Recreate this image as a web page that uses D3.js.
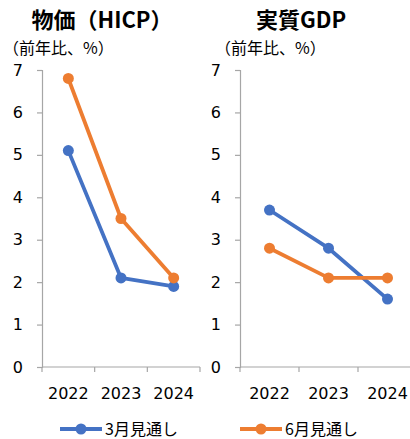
<!DOCTYPE html>
<html>
<head>
<meta charset="utf-8">
<script src="https://cdn.jsdelivr.net/npm/d3@7"></script>
<style>
  body { margin: 0; background: #fff; }
  svg { font-family: "Noto Sans CJK JP", "DejaVu Sans", sans-serif; }
</style>
</head>
<body>
<svg id="chart" width="410" height="439"></svg>
<script>
var years = ["2022", "2023", "2024"];
var seriesNames = ["3月見通し", "6月見通し"];
var seriesColors = ["#4472C4", "#ED7D31"];
var hicpMarch = [5.1, 2.1, 1.9];
var hicpJune = [6.8, 3.5, 2.1];
var gdpMarch = [3.7, 2.8, 1.6];
var gdpJune = [2.8, 2.1, 2.1];
var yTicks = [0, 1, 2, 3, 4, 5, 6, 7];

var svg = d3.select("#chart");

// one panel per chart
function drawPanel(opt) {
    var g = svg.append("g");

    var x = d3.scaleBand().domain(years).range([opt.x0, opt.x1]);
    var y = d3.scaleLinear().domain([0, 7]).range([367, 70]);

    g.append("text")
        .attr("x", opt.titleX).attr("y", 28)
        .attr("text-anchor", "middle")
        .attr("font-size", 22).attr("font-weight", "bold")
        .attr("fill", "#000")
        .text(opt.title);

    g.append("text")
        .attr("x", opt.subX).attr("y", 54)
        .attr("font-size", 16).attr("fill", "#000")
        .text("（前年比、%）");

    var yAxis = g.append("g")
        .attr("transform", "translate(" + opt.x0 + ",0)")
        .call(d3.axisLeft(y).tickValues(yTicks).tickSize(5).tickPadding(14).tickFormat(d3.format("d")));
    yAxis.select(".domain").attr("stroke", "#a6a6a6").attr("stroke-width", 1.2);
    yAxis.selectAll(".tick line").attr("stroke", "#a6a6a6").attr("stroke-width", 1.2);
    yAxis.selectAll("text").attr("font-size", 16).attr("fill", "#000")
        .attr("font-family", "'DejaVu Sans', sans-serif");

    // x axis with ticks between categories
    var xg = g.append("g").attr("transform", "translate(0,367)");
    xg.append("line")
        .attr("x1", opt.x0).attr("x2", opt.x1)
        .attr("stroke", "#a6a6a6").attr("stroke-width", 1.2);
    var bounds = [opt.x0].concat(years.map(function (d) { return x(d) + x.bandwidth(); }));
    xg.selectAll(".xt").data(bounds).enter().append("line")
        .attr("x1", function (d) { return d; }).attr("x2", function (d) { return d; })
        .attr("y1", 0).attr("y2", 5)
        .attr("stroke", "#a6a6a6").attr("stroke-width", 1.2);
    xg.selectAll(".xl").data(years).enter().append("text")
        .attr("x", function (d) { return x(d) + x.bandwidth() / 2; })
        .attr("y", 32)
        .attr("text-anchor", "middle")
        .attr("font-size", 16).attr("fill", "#000")
        .attr("font-family", "'DejaVu Sans', sans-serif")
        .text(function (d) { return d; });

    var line = d3.line()
        .x(function (d, i) { return x(years[i]) + x.bandwidth() / 2; })
        .y(function (d) { return y(d); });

    opt.series.forEach(function (vals, k) {
        g.append("path")
            .attr("d", line(vals))
            .attr("fill", "none")
            .attr("stroke", seriesColors[k])
            .attr("stroke-width", 3.8)
            .attr("stroke-linejoin", "round");
        g.selectAll(".pt" + k).data(vals).enter().append("circle")
            .attr("cx", function (d, i) { return x(years[i]) + x.bandwidth() / 2; })
            .attr("cy", function (d) { return y(d); })
            .attr("r", 5.5)
            .attr("fill", seriesColors[k]);
    });
}

drawPanel({ x0: 42, x1: 200, titleX: 102, subX: 3, title: "物価（HICP）", series: [hicpMarch, hicpJune] });
drawPanel({ x0: 240, x1: 417, titleX: 301, subX: 215, title: "実質GDP", series: [gdpMarch, gdpJune] });

// legend
var legendX = [60, 240];
seriesNames.forEach(function (name, k) {
    var lg = svg.append("g").attr("transform", "translate(" + legendX[k] + ",429)");
    lg.append("line").attr("x1", 0).attr("x2", 42)
        .attr("stroke", seriesColors[k]).attr("stroke-width", 3.8);
    lg.append("circle").attr("cx", 21).attr("cy", 0).attr("r", 5.5).attr("fill", seriesColors[k]);
    lg.append("text").attr("x", 45).attr("y", 5.5)
        .attr("font-size", 16).attr("fill", "#000")
        .text(name);
});
</script>
</body>
</html>
